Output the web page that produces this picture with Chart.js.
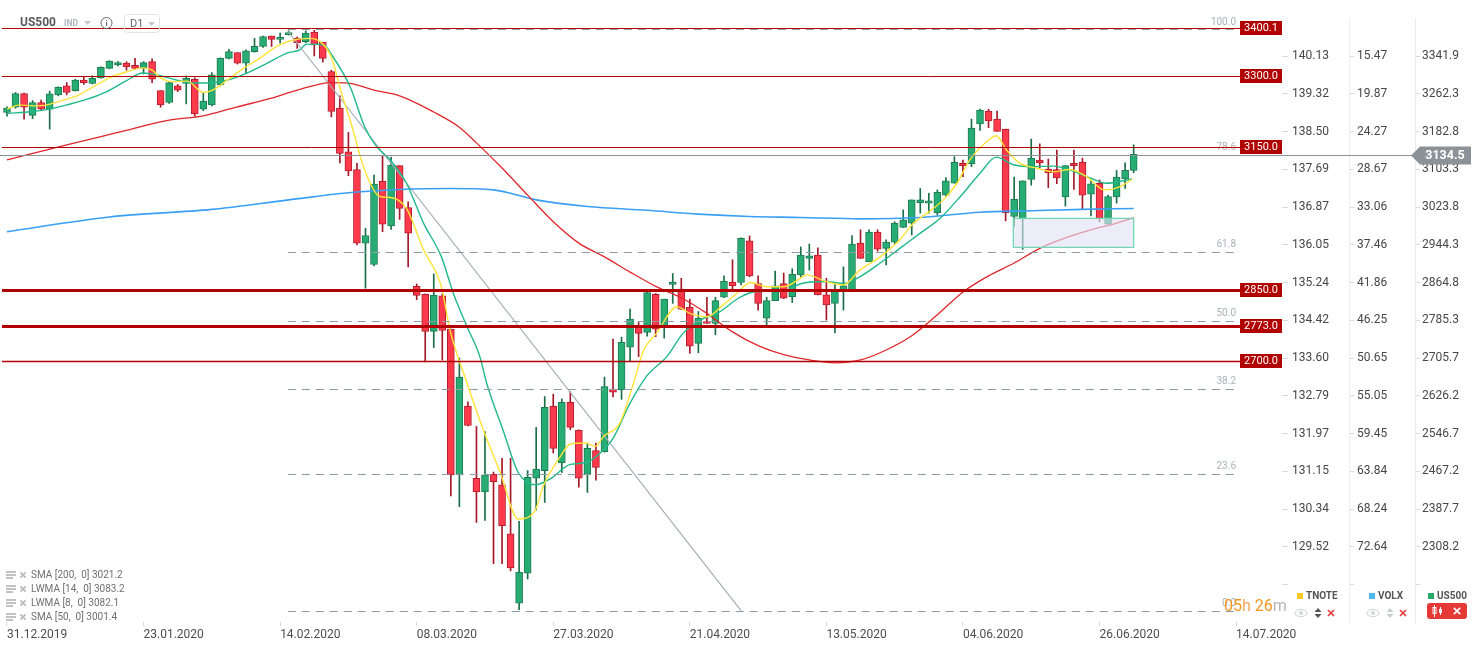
<!DOCTYPE html>
<html>
<head>
<meta charset="utf-8">
<title>US500 D1</title>
<script src="https://cdn.jsdelivr.net/npm/chart.js@4.4.1/dist/chart.umd.min.js"></script>
<style>
  html,body{margin:0;padding:0;background:#fff;}
  #wrap{position:relative;width:1482px;height:650px;}
</style>
</head>
<body>
<div id="wrap"><canvas id="chart" width="1482" height="650"></canvas></div>
<script>
/* ---------- data ---------- */
// daily candles, one per slot: [open, high, low, close]
const candles = [
  [3223,3235,3215,3232],[3234,3265,3232,3263],[3263,3264,3209,3234],[3217,3248,3210,3244],
  [3244,3249,3227,3230],[3230,3268,3188,3262],[3260,3277,3258,3276],[3279,3286,3260,3265],
  [3269,3293,3268,3291],[3291,3297,3282,3286],[3284,3300,3283,3295],[3296,3319,3295,3318],
  [3316,3332,3315,3331],[3323,3330,3321,3328],[3327,3330,3312,3319],[3322,3337,3314,3316],
  [3317,3330,3304,3328],[3330,3336,3286,3293],[3269,3269,3234,3239],[3244,3287,3242,3286],
  [3279,3282,3267,3270],[3284,3300,3241,3295],[3293,3296,3216,3220],[3230,3265,3227,3247],
  [3239,3307,3237,3302],[3281,3338,3279,3337],[3337,3356,3336,3351],[3349,3349,3325,3327],
  [3327,3355,3305,3353],[3351,3379,3350,3362],[3362,3384,3360,3383],[3384,3384,3362,3377],
  [3377,3390,3369,3381],[3387,3395,3386,3391],[3379,3382,3358,3370],[3372,3395,3370,3390],
  [3392,3396,3342,3365],[3371,3371,3329,3337],[3309,3312,3214,3225],[3232,3258,3117,3137],
  [3140,3181,3090,3100],[3103,3116,2944,2948],[2948,2979,2853,2964],[2903,3091,2900,3072],
  [3078,3131,2972,2988],[2984,3129,2977,3112],[3111,3111,2998,3021],[3023,3035,2898,2969],
  [2857,2862,2829,2838],[2840,2841,2698,2762],[2762,2883,2728,2838],[2837,2841,2702,2764],
  [2767,2767,2416,2460],[2460,2706,2393,2666],[2605,2614,2563,2564],[2453,2562,2360,2424],
  [2424,2551,2364,2460],[2461,2466,2273,2446],[2439,2495,2273,2353],[2336,2495,2258,2264],
  [2190,2362,2176,2255],[2253,2469,2241,2455],[2453,2560,2386,2472],[2469,2625,2402,2602],
  [2605,2630,2506,2516],[2485,2620,2465,2613],[2613,2635,2555,2560],[2554,2555,2434,2453],
  [2461,2527,2423,2516],[2511,2527,2449,2476],[2509,2666,2508,2646],[2640,2746,2624,2634],
  [2639,2750,2619,2739],[2729,2809,2700,2788],[2772,2781,2709,2758],[2760,2849,2752,2844],
  [2840,2842,2751,2767],[2772,2830,2748,2830],[2861,2884,2821,2866],[2851,2874,2808,2809],
  [2813,2830,2716,2731],[2737,2804,2717,2790],[2783,2834,2779,2779],[2779,2834,2755,2827],
  [2834,2879,2833,2868],[2866,2913,2849,2858],[2865,2959,2860,2958],[2953,2963,2877,2879],
  [2863,2879,2807,2821],[2790,2834,2772,2827],[2827,2889,2827,2858],[2863,2885,2831,2832],
  [2835,2894,2823,2882],[2881,2940,2877,2923],[2916,2946,2891,2921],[2923,2938,2839,2839],
  [2839,2874,2786,2818],[2821,2863,2759,2849],[2846,2898,2807,2858],[2846,2964,2846,2946],
  [2948,2976,2916,2916],[2909,2976,2909,2971],[2971,2976,2931,2935],[2937,2955,2902,2950],
  [2950,2993,2946,2990],[2981,3018,2981,2997],[2990,3039,2965,3039],[3033,3063,3011,3039],
  [3032,3053,3011,3037],[3012,3060,3007,3055],[3049,3086,3047,3079],[3074,3130,3074,3118],
  [3116,3123,3088,3111],[3115,3209,3109,3190],[3199,3230,3185,3228],[3226,3230,3191,3205],
  [3209,3226,3183,3183],[3188,3188,2995,3012],[3004,3087,2983,3040],[2999,3079,2935,3079],
  [3082,3167,3070,3127],[3123,3157,3106,3117],[3104,3125,3065,3096],[3103,3144,3073,3085],
  [3045,3111,3026,3111],[3116,3144,3061,3111],[3118,3127,3019,3049],[3051,3079,3005,3073],
  [3074,3081,2993,3000],[2988,3049,2988,3046],[3045,3101,3032,3087],[3083,3117,3063,3101],
  [3101,3155,3096,3135]
];

// indicator lines, [slot, value]
const sma200Pts = [[0,2972],[12,3003],[24,3019],[33,3039],[40,3054],[46,3061],[52,3063],[57,3060],
  [62,3039],[68,3025],[75,3017],[81,3009],[87,3004],[93,3002],[100,2999],[107,3002],[114,3013],
  [120,3016],[126,3019],[132,3021]];
const sma50Pts = [[0,3123],[7,3155],[13,3181],[19,3207],[23,3216],[27,3235],[31,3253],[34,3270],
  [38,3286],[40,3285],[43,3270],[46,3258],[50,3224],[53,3192],[55,3159],[58,3106],[61,3049],
  [64,2993],[67,2948],[70,2919],[73,2887],[76,2857],[79,2833],[82,2800],[85,2761],[88,2732],
  [91,2713],[94,2702],[97,2696],[100,2702],[103,2723],[106,2753],[109,2797],[112,2845],
  [115,2879],[118,2906],[121,2937],[124,2959],[127,2976],[130,2990],[132,3001]];
const lwma8Pts = [[0,3230],[1.5,3239],[3,3237],[4.7,3239],[6.2,3247],[8.2,3258],[10.1,3277],
  [12.1,3297],[14.1,3309],[15.9,3317],[17,3312],[17.9,3297],[19.4,3288],[21.1,3289],[23,3265],
  [24.1,3270],[25.8,3291],[27.7,3316],[29.6,3337],[31.6,3362],[33.2,3374],[35.5,3379],
  [36.9,3369],[38,3340],[39.2,3263],[40.2,3207],[41.9,3102],[43.7,3046],[44.9,3044],
  [46.8,3021],[48.8,2934],[50.9,2856],[51.9,2765],[53.9,2653],[55.8,2555],[57.8,2464],
  [59.9,2367],[61.9,2386],[62.8,2435],[64.8,2498],[66,2525],[67.9,2527],[68.9,2520],
  [69.9,2541],[71.8,2569],[73.4,2653],[74.6,2723],[76.1,2758],[78.5,2814],[80,2800],[82,2793],
  [83.9,2818],[85.5,2842],[87.1,2865],[89,2856],[91,2856],[92.9,2873],[93.7,2881],[96,2867],
  [98,2860],[99.9,2891],[102.3,2919],[104.6,2955],[106.2,2990],[107.8,3011],[109.7,3039],
  [111.3,3074],[112.8,3123],[114.8,3162],[115.9,3174],[117.1,3144],[118.7,3116],[120.6,3106],
  [122.6,3098],[124.5,3103],[126.5,3088],[128.6,3060],[130.4,3067],[131.8,3082]];
const lwma14Pts = [[0,3221],[3,3225],[5,3230],[7,3239],[9.4,3251],[11.7,3267],[14.1,3291],
  [15.9,3306],[17.6,3302],[19.9,3291],[21.8,3285],[23.4,3285],[25.8,3291],[28.1,3306],
  [30.5,3327],[32.8,3348],[34.3,3355],[35.1,3367],[37.1,3365],[38.2,3340],[40.2,3277],
  [41.9,3193],[43.3,3151],[44.9,3123],[46.8,3074],[48.8,2990],[50.9,2919],[52.3,2842],
  [53.9,2772],[55.4,2709],[56.2,2653],[58.1,2555],[59.9,2465],[61.9,2439],[63.6,2451],
  [66,2482],[67.9,2486],[69.5,2506],[71,2537],[73,2611],[74.9,2667],[77.3,2709],[79.2,2758],
  [81.2,2786],[83.2,2800],[85.9,2834],[87.8,2846],[91,2847],[92.9,2862],[96,2867],[98,2863],
  [99.9,2877],[102.3,2906],[104.6,2937],[107,2969],[109.3,3000],[111.7,3046],[114,3095],
  [115.9,3129],[117.9,3113],[120.2,3109],[122.6,3110],[124.5,3102],[126.9,3085],[128.8,3074],
  [131.8,3083]];

// drawn objects
const trendPts   = [[32.9,3394],[86,2174]];
const levels     = [3400.1, 3300.0, 3150.0, 2850.0, 2773.0, 2700.0];
const fibNames   = ['100.0','78.6','61.8','50.0','38.2','23.6','0.0'];
const fibPrices  = [3398.7, 3133.5, 2929.3, 2784.1, 2640.9, 2462.0, 2173.6];
const fibStart   = 32.9;
const rectSlots  = [117.9, 132];
const rectPrices = [2939, 3000];
const lastPrice  = 3134.5;

// axes
const dateSlots   = [0,16,32,48,64,80,96,112,128,144];
const dateLabels  = ['31.12.2019','23.01.2020','14.02.2020','08.03.2020','27.03.2020',
                     '21.04.2020','13.05.2020','04.06.2020','26.06.2020','14.07.2020'];
const usTicks     = [3341.9,3262.3,3182.8,3103.3,3023.8,2944.3,2864.8,2785.3,2705.7,
                     2626.2,2546.7,2467.2,2387.7,2308.2,2228.7];
const tnoteLabels = ['140.13','139.32','138.50','137.69','136.87','136.05','135.24','134.42',
                     '133.60','132.79','131.97','131.15','130.34','129.52'];
const volxLabels  = ['15.47','19.87','24.27','28.67','33.06','37.46','41.86','46.25',
                     '50.65','55.05','59.45','63.84','68.24','72.64'];
const legendRows  = ['SMA [200,  0] 3021.2','LWMA [14,  0] 3083.2','LWMA [8,  0] 3082.1','SMA [50,  0] 3001.4'];

/* ---------- styles ---------- */
const FONT = 'Roboto, "Noto Sans", sans-serif';
const col = {
  upFill:'#27ad74', upLine:'#1d7c51', dnFill:'#ff3a4c', dnLine:'#b21d2d',
  upWick:'#1b6e48', dnWick:'#a3192a',
  level:'#b00000', fib:'#8e9ca7', fibText:'#a8b2ba', price:'#8b9399',
  yellow:'#ffe337', teal:'#1fb98b', blue:'#3aa0f5', red:'#e0262b', trend:'#a4adb5'
};
const levelWidths = [1,1,1,3,3,1.5];
const yMin = 2150.3, yMax = 3459.8, xMin = -0.82, xMax = 149.38;

const isUp  = c => c[3] >= c[0];
const pts   = arr => arr.map(p=>({x:p[0], y:p[1]}));
const line  = (label,data,color,w,order)=>({type:'line',label,data:pts(data),borderColor:color,
  borderWidth:w,pointRadius:0,cubicInterpolationMode:'monotone',order});

/* ---------- overlay: levels, fibo, box, labels, header, legends ---------- */
function xMark(ctx,cx,cy,s,color,w){
  ctx.strokeStyle=color; ctx.lineWidth=w; ctx.beginPath();
  ctx.moveTo(cx-s,cy-s); ctx.lineTo(cx+s,cy+s); ctx.moveTo(cx+s,cy-s); ctx.lineTo(cx-s,cy+s); ctx.stroke();
}
function eye(ctx,cx,cy){
  ctx.strokeStyle='#d3d7db'; ctx.fillStyle='#d3d7db'; ctx.lineWidth=1.2;
  ctx.beginPath(); ctx.ellipse(cx,cy,6,3.6,0,0,Math.PI*2); ctx.stroke();
  ctx.beginPath(); ctx.arc(cx,cy,2,0,Math.PI*2); ctx.fill();
}
function arrows(ctx,cx,cy,color){
  ctx.fillStyle=color; ctx.beginPath();
  ctx.moveTo(cx-3.5,cy-1); ctx.lineTo(cx+3.5,cy-1); ctx.lineTo(cx,cy-5); ctx.closePath();
  ctx.moveTo(cx-3.5,cy+1); ctx.lineTo(cx+3.5,cy+1); ctx.lineTo(cx,cy+5); ctx.closePath(); ctx.fill();
}

const overlay = {
  id:'overlay',
  afterDatasetsDraw(chart){
    const {ctx, chartArea:a, scales:{x,y}} = chart;
    const boxL = a.right - 42;
    ctx.save();

    // support box
    const rx0=x.getPixelForValue(rectSlots[0]), rx1=x.getPixelForValue(rectSlots[1]);
    const ry0=y.getPixelForValue(rectPrices[1]), ry1=y.getPixelForValue(rectPrices[0]);
    ctx.fillStyle='rgba(226,226,245,0.62)'; ctx.fillRect(rx0,ry0,rx1-rx0,ry1-ry0);
    ctx.strokeStyle='#73d7b4'; ctx.lineWidth=1.3; ctx.strokeRect(rx0,ry0,rx1-rx0,ry1-ry0);

    // fibonacci
    const fx = x.getPixelForValue(fibStart);
    ctx.setLineDash([8,6]); ctx.strokeStyle=col.fib; ctx.lineWidth=1.2;
    fibPrices.forEach(p=>{
      const py=Math.round(y.getPixelForValue(p))+0.5;
      ctx.beginPath(); ctx.moveTo(fx,py); ctx.lineTo(boxL-2,py); ctx.stroke();
    });
    ctx.setLineDash([]);
    ctx.font='10px '+FONT; ctx.fillStyle=col.fibText; ctx.textAlign='right'; ctx.textBaseline='bottom';
    fibPrices.forEach((p,i)=>ctx.fillText(fibNames[i], boxL-4, y.getPixelForValue(p)-2));

    // horizontal levels with tags
    levels.forEach((p,i)=>{
      const py=Math.round(y.getPixelForValue(p));
      ctx.strokeStyle=col.level; ctx.lineWidth=levelWidths[i];
      ctx.beginPath(); ctx.moveTo(a.left+2,py+0.5); ctx.lineTo(boxL,py+0.5); ctx.stroke();
      ctx.fillStyle=col.level; ctx.fillRect(boxL,py-7,42,14);
      ctx.fillStyle='#fff'; ctx.font='11px '+FONT; ctx.textAlign='center'; ctx.textBaseline='middle';
      ctx.fillText(p.toFixed(1), boxL+21, py+0.5);
    });
    ctx.restore();
  },
  afterDraw(chart){
    const {ctx, chartArea:a, scales:{y,volx}} = chart;
    ctx.save();

    // axis column separators
    ctx.strokeStyle='#ececec'; ctx.lineWidth=1;
    [volx.left, y.left].forEach(sx=>{
      ctx.beginPath(); ctx.moveTo(Math.round(sx)+0.5,18); ctx.lineTo(Math.round(sx)+0.5,623); ctx.stroke();
    });

    // last price line + tag
    const py=Math.round(y.getPixelForValue(lastPrice))+0.5;
    ctx.strokeStyle=col.price; ctx.lineWidth=1;
    ctx.beginPath(); ctx.moveTo(a.left,py); ctx.lineTo(1412,py); ctx.stroke();
    ctx.fillStyle=col.price; ctx.beginPath();
    ctx.moveTo(1411,py); ctx.lineTo(1420,py-9); ctx.lineTo(1471,py-9); ctx.lineTo(1471,py+9);
    ctx.lineTo(1420,py+9); ctx.closePath(); ctx.fill();
    ctx.fillStyle='#fff'; ctx.font='bold 12.5px '+FONT; ctx.textAlign='center'; ctx.textBaseline='middle';
    ctx.fillText(lastPrice.toFixed(1),1445,py+0.5);

    // header
    ctx.textAlign='left';
    ctx.fillStyle='#5a5a5a'; ctx.font='bold 12px '+FONT; ctx.fillText('US500',20,23);
    ctx.fillStyle='#aeb6bd'; ctx.font='bold 8.5px '+FONT; ctx.fillText('IND',64,24);
    ctx.fillStyle='#c4c9cd'; ctx.beginPath(); ctx.moveTo(84,21); ctx.lineTo(91,21); ctx.lineTo(87.5,25); ctx.fill();
    ctx.strokeStyle='#6b6b6b'; ctx.lineWidth=1; ctx.beginPath(); ctx.arc(106.5,23,5.5,0,Math.PI*2); ctx.stroke();
    ctx.fillStyle='#6b6b6b'; ctx.font='bold 8px '+FONT; ctx.textAlign='center'; ctx.fillText('i',106.5,23.5);
    ctx.strokeStyle='#e4e4e4'; ctx.beginPath(); ctx.roundRect(124.5,14.5,35,18,3); ctx.stroke();
    ctx.fillStyle='#666'; ctx.font='11px '+FONT; ctx.textAlign='left'; ctx.fillText('D1',130,24);
    ctx.fillStyle='#c4c9cd'; ctx.beginPath(); ctx.moveTo(148,22); ctx.lineTo(155,22); ctx.lineTo(151.5,26); ctx.fill();

    // indicator legend, bottom left
    legendRows.forEach((t,i)=>{
      const ly=575+i*14;
      ctx.fillStyle='#c2c2c2';
      ctx.fillRect(6,ly-4,10,2); ctx.fillRect(6,ly-1,10,2); ctx.fillRect(6,ly+2,7,2);
      xMark(ctx,23,ly,2.6,'#b9b9b9',1.6);
      ctx.fillStyle='#707070'; ctx.font='10px '+FONT; ctx.textAlign='left'; ctx.textBaseline='middle';
      ctx.fillText(t,31,ly+0.5);
    });

    // countdown
    ctx.font='16px '+FONT; ctx.textBaseline='alphabetic'; ctx.textAlign='left';
    let cx=1224;
    [['05','#f7951f'],['h','#f2a85a'],[' 26','#f7951f'],['m','#b3b3b3']].forEach(([s,c])=>{
      ctx.fillStyle=c; ctx.fillText(s,cx,611); cx+=ctx.measureText(s).width;
    });

    // series legend, bottom right
    const tags=[['TNOTE','#f6c92b',1297,'#555'],['VOLX','#4fb7ee',1369,'#c9cdd1']];
    tags.forEach(([t,c,lx,ac])=>{
      ctx.fillStyle=c; ctx.fillRect(lx,593,6,6);
      ctx.fillStyle='#555'; ctx.font='bold 10px '+FONT; ctx.textBaseline='middle'; ctx.fillText(t,lx+9,596.5);
      eye(ctx,lx+4,613); arrows(ctx,lx+21,613,ac); xMark(ctx,lx+34,613,3,'#e53935',1.6);
    });
    ctx.fillStyle='#27a96c'; ctx.fillRect(1428,593,6,6);
    ctx.fillStyle='#555'; ctx.fillText('US500',1437,596.5);
    ctx.fillStyle='#e53935'; ctx.beginPath(); ctx.roundRect(1427,603,40,16,3); ctx.fill();
    ctx.strokeStyle='#fff'; ctx.fillStyle='#fff'; ctx.lineWidth=1;
    ctx.beginPath(); ctx.moveTo(1434.5,605); ctx.lineTo(1434.5,617); ctx.moveTo(1440.5,607); ctx.lineTo(1440.5,615); ctx.stroke();
    ctx.strokeRect(1433,607.5,3,6); ctx.fillRect(1439,609,3,4);
    xMark(ctx,1457,611,3.2,'#fff',1.7);

    ctx.restore();
  }
};

/* ---------- chart ---------- */
const axisRight = (weight,width,tickLen,pad,labels) => ({
  position:'right', weight, min:yMin, max:yMax, bounds:'data',
  afterBuildTicks: s => { s.ticks = usTicks.map(v=>({value:v})); },
  afterFit: s => { s.width = width; s.paddingTop = 0; s.paddingBottom = 0; },
  ticks:{ callback:(v,i)=> labels ? (labels[i] ?? '') : (i < 14 ? v.toFixed(1) : ''),
          color:'#474747', font:{family:FONT,size:12}, padding:pad, autoSkip:false },
  grid:{ drawOnChartArea:false, tickLength:tickLen, color:'#dcdcdc' },
  border:{ display:false }
});

new Chart(document.getElementById('chart'), {
  type:'bar',
  data:{ datasets:[
    line('LWMA 8',  lwma8Pts,  col.yellow, 1.4, 1),
    line('LWMA 14', lwma14Pts, col.teal,   1.4, 2),
    line('SMA 50',  sma50Pts,  col.red,    1.3, 3),
    line('SMA 200', sma200Pts, col.blue,   1.6, 4),
    line('trend',   trendPts,  col.trend,  1.2, 4),
    { label:'body', data:candles.map((c,i)=>({x:i, y:[c[0],c[3]]})),
      backgroundColor:candles.map(c=>isUp(c)?col.upFill:col.dnFill),
      borderColor:candles.map(c=>isUp(c)?col.upLine:col.dnLine),
      borderWidth:1, borderSkipped:false, barThickness:7, grouped:false, order:5 },
    { label:'wick', data:candles.map((c,i)=>({x:i, y:[c[2],c[1]]})),
      backgroundColor:candles.map(c=>isUp(c)?col.upWick:col.dnWick),
      borderWidth:0, barThickness:1, grouped:false, order:6 }
  ]},
  options:{
    responsive:false, animation:false, events:[],
    layout:{ padding:0 },
    plugins:{ legend:{display:false}, tooltip:{enabled:false} },
    scales:{
      x:{ type:'linear', min:xMin, max:xMax, offset:false, bounds:'data',
          afterBuildTicks: s => { s.ticks = dateSlots.map(v=>({value:v})); },
          afterFit: s => { s.height = 28; s.paddingLeft = 0; s.paddingRight = 0; },
          ticks:{ callback:(v,i)=>dateLabels[i], align:'start', maxRotation:0, autoSkip:false,
                  color:'#4d4d4d', font:{family:FONT,size:12}, padding:2 },
          grid:{ drawOnChartArea:false, tickLength:4, color:'#d6d6d6', offset:false },
          border:{ display:false } },
      tnote: axisRight(0,67,6,4,tnoteLabels),
      volx:  axisRight(1,66,5,3,volxLabels),
      y:     axisRight(2,67,5,2,null)
    }
  },
  plugins:[overlay]
});
</script>
</body>
</html>
